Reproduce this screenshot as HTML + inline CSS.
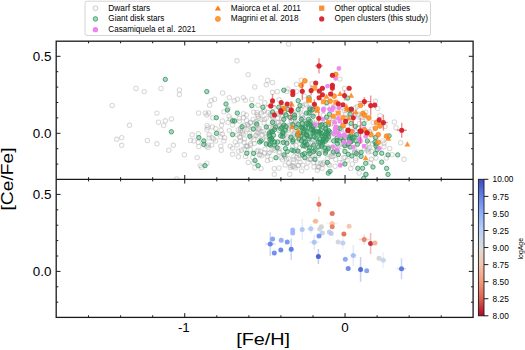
<!DOCTYPE html>
<html><head><meta charset="utf-8">
<style>
html,body{margin:0;padding:0;background:#fff;}
body{width:525px;height:350px;overflow:hidden;position:relative;}
svg{position:absolute;left:0;top:0;}
text{font-family:"Liberation Sans",sans-serif;fill:#000;}
</style></head><body>
<svg width="525" height="350" viewBox="0 0 525 350">
<defs>
<linearGradient id="cb" x1="0" y1="1" x2="0" y2="0">
<stop offset="0.000" stop-color="rgb(180, 4, 38)"/>
<stop offset="0.125" stop-color="rgb(222, 96, 77)"/>
<stop offset="0.250" stop-color="rgb(244, 154, 123)"/>
<stop offset="0.375" stop-color="rgb(245, 196, 173)"/>
<stop offset="0.500" stop-color="rgb(221, 221, 221)"/>
<stop offset="0.625" stop-color="rgb(184, 208, 249)"/>
<stop offset="0.750" stop-color="rgb(141, 176, 254)"/>
<stop offset="0.875" stop-color="rgb(98, 130, 234)"/>
<stop offset="1.000" stop-color="rgb(59, 76, 192)"/>
</linearGradient>
</defs>

<clipPath id="cu"><rect x="56.2" y="41.2" width="416.90" height="138.10"/></clipPath>
<clipPath id="cl"><rect x="56.2" y="179.3" width="416.90" height="138.10"/></clipPath>
<g clip-path="url(#cu)">
<g fill="none" stroke="#a0a0a0" stroke-width="1.05" stroke-opacity="0.4">
<circle cx="283.6" cy="106.6" r="2.2"/>
<circle cx="315.4" cy="123.2" r="2.2"/>
<circle cx="243.7" cy="134.1" r="2.2"/>
<circle cx="240.6" cy="128.4" r="2.2"/>
<circle cx="298.7" cy="158.7" r="2.2"/>
<circle cx="321.6" cy="125.5" r="2.2"/>
<circle cx="363.8" cy="117.3" r="2.2"/>
<circle cx="281.3" cy="157.8" r="2.2"/>
<circle cx="262.1" cy="139.8" r="2.2"/>
<circle cx="330.8" cy="123.7" r="2.2"/>
<circle cx="337.1" cy="127.9" r="2.2"/>
<circle cx="282.1" cy="140.1" r="2.2"/>
<circle cx="303.0" cy="118.1" r="2.2"/>
<circle cx="354.2" cy="148.8" r="2.2"/>
<circle cx="271.6" cy="139.2" r="2.2"/>
<circle cx="313.8" cy="162.4" r="2.2"/>
<circle cx="344.4" cy="117.2" r="2.2"/>
<circle cx="297.7" cy="153.3" r="2.2"/>
<circle cx="257.8" cy="132.7" r="2.2"/>
<circle cx="349.7" cy="139.1" r="2.2"/>
<circle cx="366.3" cy="119.2" r="2.2"/>
<circle cx="339.3" cy="140.8" r="2.2"/>
<circle cx="322.0" cy="130.1" r="2.2"/>
<circle cx="306.1" cy="146.1" r="2.2"/>
<circle cx="244.1" cy="149.0" r="2.2"/>
<circle cx="358.3" cy="116.9" r="2.2"/>
<circle cx="292.9" cy="146.5" r="2.2"/>
<circle cx="293.6" cy="162.1" r="2.2"/>
<circle cx="247.1" cy="129.6" r="2.2"/>
<circle cx="317.4" cy="163.0" r="2.2"/>
<circle cx="276.8" cy="127.0" r="2.2"/>
<circle cx="288.8" cy="163.1" r="2.2"/>
<circle cx="261.4" cy="112.9" r="2.2"/>
<circle cx="270.0" cy="132.3" r="2.2"/>
<circle cx="323.4" cy="115.2" r="2.2"/>
<circle cx="290.4" cy="138.6" r="2.2"/>
<circle cx="312.3" cy="142.6" r="2.2"/>
<circle cx="293.9" cy="125.7" r="2.2"/>
<circle cx="250.5" cy="143.8" r="2.2"/>
<circle cx="250.2" cy="123.0" r="2.2"/>
<circle cx="327.1" cy="106.4" r="2.2"/>
<circle cx="272.8" cy="121.7" r="2.2"/>
<circle cx="289.6" cy="104.5" r="2.2"/>
<circle cx="304.9" cy="132.3" r="2.2"/>
<circle cx="286.4" cy="115.4" r="2.2"/>
<circle cx="314.2" cy="106.3" r="2.2"/>
<circle cx="364.5" cy="148.6" r="2.2"/>
<circle cx="274.2" cy="123.2" r="2.2"/>
<circle cx="260.1" cy="154.4" r="2.2"/>
<circle cx="314.9" cy="155.0" r="2.2"/>
<circle cx="284.4" cy="112.2" r="2.2"/>
<circle cx="357.7" cy="152.0" r="2.2"/>
<circle cx="269.0" cy="134.9" r="2.2"/>
<circle cx="273.9" cy="148.3" r="2.2"/>
<circle cx="268.1" cy="112.5" r="2.2"/>
<circle cx="264.5" cy="110.7" r="2.2"/>
<circle cx="328.6" cy="164.3" r="2.2"/>
<circle cx="361.1" cy="131.9" r="2.2"/>
<circle cx="332.9" cy="156.6" r="2.2"/>
<circle cx="247.7" cy="145.9" r="2.2"/>
<circle cx="347.5" cy="131.8" r="2.2"/>
<circle cx="261.8" cy="155.8" r="2.2"/>
<circle cx="284.9" cy="156.7" r="2.2"/>
<circle cx="295.2" cy="167.9" r="2.2"/>
<circle cx="343.7" cy="108.1" r="2.2"/>
<circle cx="287.6" cy="137.2" r="2.2"/>
<circle cx="314.0" cy="166.9" r="2.2"/>
<circle cx="300.1" cy="162.1" r="2.2"/>
<circle cx="272.8" cy="117.6" r="2.2"/>
<circle cx="271.1" cy="140.2" r="2.2"/>
<circle cx="273.9" cy="127.3" r="2.2"/>
<circle cx="288.1" cy="130.3" r="2.2"/>
<circle cx="322.5" cy="164.6" r="2.2"/>
<circle cx="298.1" cy="165.7" r="2.2"/>
<circle cx="310.2" cy="136.0" r="2.2"/>
<circle cx="301.0" cy="109.1" r="2.2"/>
<circle cx="260.9" cy="131.5" r="2.2"/>
<circle cx="343.8" cy="137.8" r="2.2"/>
<circle cx="283.9" cy="134.9" r="2.2"/>
<circle cx="318.3" cy="155.4" r="2.2"/>
<circle cx="250.9" cy="138.1" r="2.2"/>
<circle cx="272.3" cy="116.3" r="2.2"/>
<circle cx="350.8" cy="134.1" r="2.2"/>
<circle cx="319.3" cy="153.5" r="2.2"/>
<circle cx="371.9" cy="129.1" r="2.2"/>
<circle cx="326.9" cy="133.9" r="2.2"/>
<circle cx="311.8" cy="148.3" r="2.2"/>
<circle cx="302.9" cy="136.1" r="2.2"/>
<circle cx="306.7" cy="167.5" r="2.2"/>
<circle cx="339.9" cy="162.5" r="2.2"/>
<circle cx="318.9" cy="167.6" r="2.2"/>
<circle cx="253.2" cy="129.0" r="2.2"/>
<circle cx="246.0" cy="146.5" r="2.2"/>
<circle cx="258.2" cy="150.1" r="2.2"/>
<circle cx="334.0" cy="106.0" r="2.2"/>
<circle cx="294.7" cy="132.5" r="2.2"/>
<circle cx="259.2" cy="128.2" r="2.2"/>
<circle cx="312.3" cy="121.1" r="2.2"/>
<circle cx="264.4" cy="119.5" r="2.2"/>
<circle cx="318.1" cy="128.9" r="2.2"/>
<circle cx="328.6" cy="134.4" r="2.2"/>
<circle cx="298.3" cy="165.2" r="2.2"/>
<circle cx="357.8" cy="114.9" r="2.2"/>
<circle cx="320.6" cy="148.9" r="2.2"/>
<circle cx="338.2" cy="127.7" r="2.2"/>
<circle cx="330.2" cy="156.7" r="2.2"/>
<circle cx="303.1" cy="121.1" r="2.2"/>
<circle cx="318.0" cy="166.4" r="2.2"/>
<circle cx="314.0" cy="113.4" r="2.2"/>
<circle cx="281.8" cy="118.5" r="2.2"/>
<circle cx="348.9" cy="117.3" r="2.2"/>
<circle cx="310.0" cy="108.7" r="2.2"/>
<circle cx="345.0" cy="137.4" r="2.2"/>
<circle cx="263.4" cy="131.6" r="2.2"/>
<circle cx="357.8" cy="128.3" r="2.2"/>
<circle cx="309.3" cy="159.3" r="2.2"/>
<circle cx="294.0" cy="134.0" r="2.2"/>
<circle cx="286.4" cy="159.1" r="2.2"/>
<circle cx="341.0" cy="144.0" r="2.2"/>
<circle cx="295.7" cy="121.8" r="2.2"/>
<circle cx="273.3" cy="107.6" r="2.2"/>
<circle cx="365.6" cy="146.6" r="2.2"/>
<circle cx="277.3" cy="113.7" r="2.2"/>
<circle cx="279.0" cy="130.4" r="2.2"/>
<circle cx="258.6" cy="129.3" r="2.2"/>
<circle cx="281.4" cy="122.5" r="2.2"/>
<circle cx="306.2" cy="133.7" r="2.2"/>
<circle cx="265.1" cy="133.9" r="2.2"/>
<circle cx="248.5" cy="125.8" r="2.2"/>
<circle cx="280.6" cy="112.9" r="2.2"/>
<circle cx="322.8" cy="135.7" r="2.2"/>
<circle cx="347.6" cy="145.6" r="2.2"/>
<circle cx="342.4" cy="162.7" r="2.2"/>
<circle cx="293.4" cy="120.1" r="2.2"/>
<circle cx="343.6" cy="144.5" r="2.2"/>
<circle cx="368.8" cy="143.3" r="2.2"/>
<circle cx="345.1" cy="157.5" r="2.2"/>
<circle cx="255.9" cy="135.3" r="2.2"/>
<circle cx="310.7" cy="159.3" r="2.2"/>
<circle cx="355.7" cy="158.6" r="2.2"/>
<circle cx="322.6" cy="163.7" r="2.2"/>
<circle cx="337.4" cy="148.4" r="2.2"/>
<circle cx="255.0" cy="122.8" r="2.2"/>
<circle cx="318.8" cy="143.3" r="2.2"/>
<circle cx="328.9" cy="147.4" r="2.2"/>
<circle cx="354.7" cy="152.6" r="2.2"/>
<circle cx="310.4" cy="136.2" r="2.2"/>
<circle cx="345.5" cy="114.4" r="2.2"/>
<circle cx="344.4" cy="110.8" r="2.2"/>
<circle cx="309.1" cy="124.5" r="2.2"/>
<circle cx="306.9" cy="147.6" r="2.2"/>
<circle cx="350.0" cy="142.5" r="2.2"/>
<circle cx="257.1" cy="114.6" r="2.2"/>
<circle cx="346.5" cy="118.4" r="2.2"/>
<circle cx="335.8" cy="148.3" r="2.2"/>
<circle cx="336.4" cy="117.4" r="2.2"/>
<circle cx="312.5" cy="130.8" r="2.2"/>
<circle cx="305.0" cy="104.1" r="2.2"/>
<circle cx="302.4" cy="115.7" r="2.2"/>
<circle cx="266.6" cy="139.8" r="2.2"/>
<circle cx="256.3" cy="135.4" r="2.2"/>
<circle cx="358.0" cy="134.2" r="2.2"/>
<circle cx="368.0" cy="149.2" r="2.2"/>
<circle cx="302.6" cy="118.3" r="2.2"/>
<circle cx="256.1" cy="121.5" r="2.2"/>
<circle cx="282.4" cy="159.7" r="2.2"/>
<circle cx="290.8" cy="125.3" r="2.2"/>
<circle cx="289.1" cy="128.0" r="2.2"/>
<circle cx="272.4" cy="115.5" r="2.2"/>
<circle cx="311.6" cy="109.6" r="2.2"/>
<circle cx="329.6" cy="165.3" r="2.2"/>
<circle cx="376.1" cy="137.3" r="2.2"/>
<circle cx="344.9" cy="129.7" r="2.2"/>
<circle cx="347.9" cy="144.6" r="2.2"/>
<circle cx="305.8" cy="121.5" r="2.2"/>
<circle cx="279.7" cy="151.9" r="2.2"/>
<circle cx="333.4" cy="118.2" r="2.2"/>
<circle cx="318.6" cy="125.4" r="2.2"/>
<circle cx="309.6" cy="111.9" r="2.2"/>
<circle cx="302.5" cy="105.7" r="2.2"/>
<circle cx="270.9" cy="114.9" r="2.2"/>
<circle cx="320.4" cy="163.3" r="2.2"/>
<circle cx="347.4" cy="126.8" r="2.2"/>
<circle cx="297.1" cy="135.4" r="2.2"/>
<circle cx="291.5" cy="121.0" r="2.2"/>
<circle cx="310.5" cy="143.5" r="2.2"/>
<circle cx="275.7" cy="114.1" r="2.2"/>
<circle cx="295.0" cy="129.3" r="2.2"/>
<circle cx="369.4" cy="131.4" r="2.2"/>
<circle cx="293.7" cy="166.4" r="2.2"/>
<circle cx="313.4" cy="147.5" r="2.2"/>
<circle cx="332.1" cy="153.9" r="2.2"/>
<circle cx="303.6" cy="137.5" r="2.2"/>
<circle cx="331.8" cy="118.4" r="2.2"/>
<circle cx="330.4" cy="148.8" r="2.2"/>
<circle cx="313.7" cy="139.9" r="2.2"/>
<circle cx="293.2" cy="112.2" r="2.2"/>
<circle cx="280.2" cy="130.5" r="2.2"/>
<circle cx="367.6" cy="131.6" r="2.2"/>
<circle cx="270.2" cy="114.0" r="2.2"/>
<circle cx="309.7" cy="146.9" r="2.2"/>
<circle cx="298.0" cy="114.8" r="2.2"/>
<circle cx="335.1" cy="166.2" r="2.2"/>
<circle cx="285.7" cy="127.4" r="2.2"/>
<circle cx="337.4" cy="110.3" r="2.2"/>
<circle cx="354.6" cy="151.9" r="2.2"/>
<circle cx="310.7" cy="110.8" r="2.2"/>
<circle cx="268.2" cy="153.6" r="2.2"/>
<circle cx="309.4" cy="109.4" r="2.2"/>
<circle cx="268.5" cy="127.1" r="2.2"/>
<circle cx="257.0" cy="125.3" r="2.2"/>
<circle cx="244.0" cy="125.3" r="2.2"/>
<circle cx="334.7" cy="124.2" r="2.2"/>
<circle cx="291.1" cy="120.5" r="2.2"/>
<circle cx="277.0" cy="122.1" r="2.2"/>
<circle cx="288.5" cy="158.3" r="2.2"/>
<circle cx="358.3" cy="128.3" r="2.2"/>
<circle cx="242.4" cy="131.5" r="2.2"/>
<circle cx="290.9" cy="165.8" r="2.2"/>
<circle cx="264.0" cy="123.0" r="2.2"/>
<circle cx="296.6" cy="157.5" r="2.2"/>
<circle cx="285.9" cy="116.0" r="2.2"/>
<circle cx="274.3" cy="150.2" r="2.2"/>
<circle cx="282.5" cy="116.2" r="2.2"/>
<circle cx="372.5" cy="143.8" r="2.2"/>
<circle cx="270.1" cy="131.6" r="2.2"/>
<circle cx="293.0" cy="114.3" r="2.2"/>
<circle cx="299.5" cy="133.0" r="2.2"/>
<circle cx="355.4" cy="151.9" r="2.2"/>
<circle cx="358.4" cy="154.5" r="2.2"/>
<circle cx="326.1" cy="120.2" r="2.2"/>
<circle cx="282.9" cy="122.9" r="2.2"/>
<circle cx="264.6" cy="153.0" r="2.2"/>
<circle cx="240.1" cy="137.5" r="2.2"/>
<circle cx="249.5" cy="133.4" r="2.2"/>
<circle cx="341.5" cy="129.4" r="2.2"/>
<circle cx="270.1" cy="127.1" r="2.2"/>
<circle cx="328.0" cy="146.9" r="2.2"/>
<circle cx="347.2" cy="160.2" r="2.2"/>
<circle cx="361.1" cy="117.6" r="2.2"/>
<circle cx="136.0" cy="88.4" r="2.2"/>
<circle cx="144.2" cy="91.6" r="2.2"/>
<circle cx="161.0" cy="88.4" r="2.2"/>
<circle cx="112.2" cy="105.4" r="2.2"/>
<circle cx="156.9" cy="113.1" r="2.2"/>
<circle cx="158.5" cy="122.2" r="2.2"/>
<circle cx="129.5" cy="125.3" r="2.2"/>
<circle cx="116.7" cy="139.3" r="2.2"/>
<circle cx="121.7" cy="137.6" r="2.2"/>
<circle cx="121.7" cy="145.3" r="2.2"/>
<circle cx="147.4" cy="140.5" r="2.2"/>
<circle cx="156.9" cy="143.8" r="2.2"/>
<circle cx="179.4" cy="90.0" r="2.2"/>
<circle cx="179.4" cy="94.4" r="2.2"/>
<circle cx="237.0" cy="60.8" r="2.2"/>
<circle cx="248.2" cy="74.6" r="2.2"/>
<circle cx="254.8" cy="87.0" r="2.2"/>
<circle cx="222.6" cy="93.0" r="2.2"/>
<circle cx="214.6" cy="99.2" r="2.2"/>
<circle cx="211.2" cy="100.6" r="2.2"/>
<circle cx="209.6" cy="105.2" r="2.2"/>
<circle cx="229.4" cy="97.6" r="2.2"/>
<circle cx="234.2" cy="100.8" r="2.2"/>
<circle cx="237.4" cy="99.2" r="2.2"/>
<circle cx="243.4" cy="97.6" r="2.2"/>
<circle cx="245.4" cy="100.2" r="2.2"/>
<circle cx="251.8" cy="99.4" r="2.2"/>
<circle cx="258.0" cy="105.2" r="2.2"/>
<circle cx="261.0" cy="98.0" r="2.2"/>
<circle cx="165.3" cy="120.8" r="2.2"/>
<circle cx="171.4" cy="118.9" r="2.2"/>
<circle cx="163.6" cy="125.5" r="2.2"/>
<circle cx="173.3" cy="145.3" r="2.2"/>
<circle cx="168.8" cy="150.2" r="2.2"/>
<circle cx="184.4" cy="154.7" r="2.2"/>
<circle cx="197.2" cy="157.6" r="2.2"/>
<circle cx="192.2" cy="134.8" r="2.2"/>
<circle cx="190.6" cy="140.5" r="2.2"/>
<circle cx="193.9" cy="140.9" r="2.2"/>
<circle cx="198.8" cy="146.5" r="2.2"/>
<circle cx="198.6" cy="113.0" r="2.2"/>
<circle cx="205.4" cy="113.0" r="2.2"/>
<circle cx="208.7" cy="113.0" r="2.2"/>
<circle cx="212.8" cy="117.7" r="2.2"/>
<circle cx="207.1" cy="125.5" r="2.2"/>
<circle cx="207.9" cy="127.6" r="2.2"/>
<circle cx="212.4" cy="127.0" r="2.2"/>
<circle cx="215.7" cy="128.6" r="2.2"/>
<circle cx="221.5" cy="125.3" r="2.2"/>
<circle cx="222.3" cy="121.0" r="2.2"/>
<circle cx="223.9" cy="111.7" r="2.2"/>
<circle cx="229.1" cy="116.2" r="2.2"/>
<circle cx="243.5" cy="113.6" r="2.2"/>
<circle cx="243.5" cy="117.7" r="2.2"/>
<circle cx="246.6" cy="120.4" r="2.2"/>
<circle cx="239.4" cy="118.3" r="2.2"/>
<circle cx="253.8" cy="112.1" r="2.2"/>
<circle cx="256.9" cy="112.5" r="2.2"/>
<circle cx="250.7" cy="122.4" r="2.2"/>
<circle cx="247.6" cy="124.5" r="2.2"/>
<circle cx="258.9" cy="118.3" r="2.2"/>
<circle cx="229.3" cy="130.6" r="2.2"/>
<circle cx="209.1" cy="134.8" r="2.2"/>
<circle cx="209.1" cy="137.9" r="2.2"/>
<circle cx="213.6" cy="138.9" r="2.2"/>
<circle cx="215.7" cy="140.9" r="2.2"/>
<circle cx="220.6" cy="136.8" r="2.2"/>
<circle cx="223.9" cy="140.9" r="2.2"/>
<circle cx="220.9" cy="146.1" r="2.2"/>
<circle cx="221.3" cy="150.2" r="2.2"/>
<circle cx="208.5" cy="145.1" r="2.2"/>
<circle cx="211.6" cy="145.1" r="2.2"/>
<circle cx="206.4" cy="146.1" r="2.2"/>
<circle cx="230.1" cy="146.1" r="2.2"/>
<circle cx="232.6" cy="148.1" r="2.2"/>
<circle cx="232.6" cy="154.3" r="2.2"/>
<circle cx="238.4" cy="151.2" r="2.2"/>
<circle cx="241.4" cy="150.2" r="2.2"/>
<circle cx="238.4" cy="156.8" r="2.2"/>
<circle cx="245.6" cy="156.4" r="2.2"/>
<circle cx="235.3" cy="142.0" r="2.2"/>
<circle cx="240.4" cy="140.9" r="2.2"/>
<circle cx="244.5" cy="138.9" r="2.2"/>
<circle cx="246.6" cy="146.1" r="2.2"/>
<circle cx="250.7" cy="145.1" r="2.2"/>
<circle cx="253.8" cy="139.9" r="2.2"/>
<circle cx="257.9" cy="136.8" r="2.2"/>
<circle cx="258.9" cy="130.6" r="2.2"/>
<circle cx="237.3" cy="134.8" r="2.2"/>
<circle cx="240.4" cy="130.6" r="2.2"/>
<circle cx="248.2" cy="162.4" r="2.2"/>
<circle cx="252.8" cy="157.4" r="2.2"/>
<circle cx="200.3" cy="165.6" r="2.2"/>
<circle cx="201.7" cy="167.3" r="2.2"/>
<circle cx="206.9" cy="163.2" r="2.2"/>
<circle cx="176.6" cy="179.0" r="2.2"/>
<circle cx="254.8" cy="167.7" r="2.2"/>
<circle cx="267.6" cy="80.3" r="2.2"/>
<circle cx="272.5" cy="82.4" r="2.2"/>
<circle cx="266.3" cy="84.8" r="2.2"/>
<circle cx="277.3" cy="91.5" r="2.2"/>
<circle cx="272.5" cy="92.3" r="2.2"/>
<circle cx="264.7" cy="102.8" r="2.2"/>
<circle cx="286.9" cy="91.5" r="2.2"/>
<circle cx="287.9" cy="88.9" r="2.2"/>
<circle cx="296.6" cy="84.3" r="2.2"/>
<circle cx="301.3" cy="80.1" r="2.2"/>
<circle cx="296.6" cy="91.5" r="2.2"/>
<circle cx="304.4" cy="96.1" r="2.2"/>
<circle cx="306.4" cy="104.8" r="2.2"/>
<circle cx="309.5" cy="107.4" r="2.2"/>
<circle cx="279.1" cy="99.7" r="2.2"/>
<circle cx="339.9" cy="79.1" r="2.2"/>
<circle cx="344.5" cy="88.4" r="2.2"/>
<circle cx="312.1" cy="83.7" r="2.2"/>
<circle cx="357.4" cy="106.4" r="2.2"/>
<circle cx="355.3" cy="107.9" r="2.2"/>
<circle cx="375.4" cy="101.3" r="2.2"/>
<circle cx="377.7" cy="108.6" r="2.2"/>
<circle cx="263.2" cy="111.6" r="2.2"/>
<circle cx="258.1" cy="116.2" r="2.2"/>
<circle cx="261.1" cy="119.3" r="2.2"/>
<circle cx="266.3" cy="118.3" r="2.2"/>
<circle cx="262.2" cy="134.7" r="2.2"/>
<circle cx="278.6" cy="122.4" r="2.2"/>
<circle cx="277.6" cy="118.3" r="2.2"/>
<circle cx="279.7" cy="125.5" r="2.2"/>
<circle cx="287.9" cy="125.5" r="2.2"/>
<circle cx="288.9" cy="132.7" r="2.2"/>
<circle cx="295.1" cy="134.7" r="2.2"/>
<circle cx="286.9" cy="138.9" r="2.2"/>
<circle cx="299.2" cy="139.9" r="2.2"/>
<circle cx="266.3" cy="136.8" r="2.2"/>
<circle cx="301.3" cy="114.2" r="2.2"/>
<circle cx="282.7" cy="109.0" r="2.2"/>
<circle cx="297.2" cy="123.4" r="2.2"/>
<circle cx="311.6" cy="114.2" r="2.2"/>
<circle cx="318.3" cy="128.6" r="2.2"/>
<circle cx="315.2" cy="139.9" r="2.2"/>
<circle cx="328.6" cy="139.9" r="2.2"/>
<circle cx="359.4" cy="123.4" r="2.2"/>
<circle cx="358.4" cy="114.2" r="2.2"/>
<circle cx="380.0" cy="115.7" r="2.2"/>
<circle cx="373.1" cy="122.6" r="2.2"/>
<circle cx="394.3" cy="122.0" r="2.2"/>
<circle cx="396.0" cy="127.7" r="2.2"/>
<circle cx="385.1" cy="126.6" r="2.2"/>
<circle cx="365.7" cy="112.3" r="2.2"/>
<circle cx="400.6" cy="142.7" r="2.2"/>
<circle cx="389.7" cy="148.4" r="2.2"/>
<circle cx="392.0" cy="154.7" r="2.2"/>
<circle cx="404.0" cy="159.3" r="2.2"/>
<circle cx="369.1" cy="147.9" r="2.2"/>
<circle cx="371.4" cy="151.3" r="2.2"/>
<circle cx="384.0" cy="146.7" r="2.2"/>
<circle cx="384.0" cy="143.3" r="2.2"/>
<circle cx="386.3" cy="158.1" r="2.2"/>
<circle cx="376.0" cy="158.1" r="2.2"/>
<circle cx="371.4" cy="159.3" r="2.2"/>
<circle cx="370.3" cy="162.7" r="2.2"/>
<circle cx="382.9" cy="141.0" r="2.2"/>
<circle cx="363.4" cy="127.3" r="2.2"/>
<circle cx="368.6" cy="151.9" r="2.2"/>
<circle cx="261.1" cy="168.6" r="2.2"/>
<circle cx="267.4" cy="156.0" r="2.2"/>
<circle cx="267.4" cy="160.6" r="2.2"/>
<circle cx="270.9" cy="159.4" r="2.2"/>
<circle cx="274.3" cy="168.6" r="2.2"/>
<circle cx="278.9" cy="168.0" r="2.2"/>
<circle cx="274.3" cy="174.3" r="2.2"/>
<circle cx="285.1" cy="165.1" r="2.2"/>
<circle cx="290.3" cy="167.4" r="2.2"/>
<circle cx="292.6" cy="166.3" r="2.2"/>
<circle cx="289.7" cy="174.3" r="2.2"/>
<circle cx="293.7" cy="156.6" r="2.2"/>
<circle cx="293.7" cy="159.4" r="2.2"/>
<circle cx="302.9" cy="165.1" r="2.2"/>
<circle cx="301.7" cy="170.9" r="2.2"/>
<circle cx="308.0" cy="162.3" r="2.2"/>
<circle cx="310.9" cy="158.9" r="2.2"/>
<circle cx="300.0" cy="155.4" r="2.2"/>
<circle cx="298.3" cy="151.4" r="2.2"/>
<circle cx="278.9" cy="152.6" r="2.2"/>
<circle cx="269.7" cy="152.6" r="2.2"/>
<circle cx="259.4" cy="154.9" r="2.2"/>
<circle cx="260.6" cy="151.4" r="2.2"/>
<circle cx="265.1" cy="149.1" r="2.2"/>
<circle cx="272.0" cy="149.7" r="2.2"/>
<circle cx="278.9" cy="148.6" r="2.2"/>
<circle cx="282.3" cy="142.9" r="2.2"/>
<circle cx="286.9" cy="143.4" r="2.2"/>
<circle cx="296.0" cy="145.7" r="2.2"/>
<circle cx="299.4" cy="148.0" r="2.2"/>
<circle cx="297.1" cy="141.1" r="2.2"/>
<circle cx="308.6" cy="153.7" r="2.2"/>
<circle cx="257.1" cy="151.4" r="2.2"/>
<circle cx="317.4" cy="170.3" r="2.2"/>
<circle cx="322.0" cy="168.3" r="2.2"/>
<circle cx="323.7" cy="162.3" r="2.2"/>
<circle cx="327.7" cy="158.3" r="2.2"/>
<circle cx="331.7" cy="156.0" r="2.2"/>
<circle cx="335.7" cy="159.4" r="2.2"/>
<circle cx="343.7" cy="157.7" r="2.2"/>
<circle cx="350.6" cy="168.6" r="2.2"/>
<circle cx="352.3" cy="164.0" r="2.2"/>
<circle cx="359.1" cy="173.1" r="2.2"/>
<circle cx="365.4" cy="174.3" r="2.2"/>
<circle cx="355.7" cy="160.6" r="2.2"/>
<circle cx="342.0" cy="146.9" r="2.2"/>
<circle cx="323.7" cy="149.7" r="2.2"/>
<circle cx="312.3" cy="156.0" r="2.2"/>
<circle cx="339.7" cy="142.3" r="2.2"/>
<circle cx="367.1" cy="150.3" r="2.2"/>
<circle cx="198.3" cy="142.3" r="2.2"/>
<circle cx="208.0" cy="147.4" r="2.2"/>
<circle cx="250.3" cy="149.7" r="2.2"/>
<circle cx="253.7" cy="162.9" r="2.2"/>
<circle cx="244.0" cy="142.3" r="2.2"/>
<circle cx="254.3" cy="143.4" r="2.2"/>
<circle cx="237.1" cy="145.1" r="2.2"/>
<circle cx="206.9" cy="114.9" r="2.2"/>
<circle cx="228.0" cy="108.6" r="2.2"/>
<circle cx="228.0" cy="122.3" r="2.2"/>
<circle cx="230.3" cy="118.9" r="2.2"/>
<circle cx="246.3" cy="114.9" r="2.2"/>
<circle cx="239.4" cy="121.1" r="2.2"/>
<circle cx="253.1" cy="119.4" r="2.2"/>
<circle cx="206.9" cy="129.7" r="2.2"/>
<circle cx="221.1" cy="130.3" r="2.2"/>
<circle cx="232.6" cy="125.1" r="2.2"/>
<circle cx="238.3" cy="129.7" r="2.2"/>
<circle cx="248.0" cy="128.0" r="2.2"/>
<circle cx="242.3" cy="133.1" r="2.2"/>
<circle cx="198.3" cy="133.7" r="2.2"/>
<circle cx="212.0" cy="137.7" r="2.2"/>
<circle cx="222.3" cy="134.3" r="2.2"/>
<circle cx="224.6" cy="137.7" r="2.2"/>
<circle cx="239.4" cy="136.6" r="2.2"/>
<circle cx="288.6" cy="44.0" r="2.2"/>
</g>
<g fill="#2e8b57" fill-opacity="0.38" stroke="#319960" stroke-opacity="0.85" stroke-width="0.95">
<circle cx="165.3" cy="79.4" r="2.2"/>
<circle cx="206.8" cy="91.6" r="2.2"/>
<circle cx="226.0" cy="104.0" r="2.2"/>
<circle cx="251.8" cy="105.6" r="2.2"/>
<circle cx="227.4" cy="110.0" r="2.2"/>
<circle cx="171.4" cy="131.8" r="2.2"/>
<circle cx="237.3" cy="113.1" r="2.2"/>
<circle cx="216.3" cy="117.7" r="2.2"/>
<circle cx="232.6" cy="120.8" r="2.2"/>
<circle cx="234.6" cy="121.0" r="2.2"/>
<circle cx="242.1" cy="126.7" r="2.2"/>
<circle cx="253.4" cy="129.0" r="2.2"/>
<circle cx="256.7" cy="124.0" r="2.2"/>
<circle cx="216.5" cy="133.3" r="2.2"/>
<circle cx="232.6" cy="134.6" r="2.2"/>
<circle cx="198.8" cy="137.6" r="2.2"/>
<circle cx="203.8" cy="140.9" r="2.2"/>
<circle cx="203.8" cy="144.4" r="2.2"/>
<circle cx="249.9" cy="136.2" r="2.2"/>
<circle cx="259.6" cy="142.0" r="2.2"/>
<circle cx="246.8" cy="153.3" r="2.2"/>
<circle cx="253.6" cy="153.3" r="2.2"/>
<circle cx="255.0" cy="160.5" r="2.2"/>
<circle cx="258.1" cy="165.6" r="2.2"/>
<circle cx="205.0" cy="165.6" r="2.2"/>
<circle cx="283.8" cy="90.2" r="2.2"/>
<circle cx="262.9" cy="107.2" r="2.2"/>
<circle cx="278.8" cy="107.2" r="2.2"/>
<circle cx="298.2" cy="100.7" r="2.2"/>
<circle cx="300.0" cy="105.6" r="2.2"/>
<circle cx="298.2" cy="109.5" r="2.2"/>
<circle cx="287.9" cy="109.5" r="2.2"/>
<circle cx="347.6" cy="98.1" r="2.2"/>
<circle cx="351.2" cy="109.5" r="2.2"/>
<circle cx="312.6" cy="109.5" r="2.2"/>
<circle cx="309.0" cy="97.8" r="2.2"/>
<circle cx="326.5" cy="102.8" r="2.2"/>
<circle cx="272.5" cy="112.1" r="2.2"/>
<circle cx="285.8" cy="114.7" r="2.2"/>
<circle cx="290.0" cy="117.3" r="2.2"/>
<circle cx="294.6" cy="117.8" r="2.2"/>
<circle cx="294.6" cy="115.2" r="2.2"/>
<circle cx="306.4" cy="113.1" r="2.2"/>
<circle cx="308.5" cy="119.3" r="2.2"/>
<circle cx="301.3" cy="119.3" r="2.2"/>
<circle cx="283.8" cy="119.3" r="2.2"/>
<circle cx="272.5" cy="122.4" r="2.2"/>
<circle cx="266.3" cy="127.0" r="2.2"/>
<circle cx="275.5" cy="127.0" r="2.2"/>
<circle cx="280.7" cy="128.6" r="2.2"/>
<circle cx="285.3" cy="130.1" r="2.2"/>
<circle cx="283.8" cy="125.0" r="2.2"/>
<circle cx="272.5" cy="131.7" r="2.2"/>
<circle cx="269.4" cy="133.2" r="2.2"/>
<circle cx="274.5" cy="129.6" r="2.2"/>
<circle cx="280.7" cy="135.8" r="2.2"/>
<circle cx="282.7" cy="136.3" r="2.2"/>
<circle cx="291.0" cy="137.3" r="2.2"/>
<circle cx="293.0" cy="139.9" r="2.2"/>
<circle cx="269.9" cy="139.4" r="2.2"/>
<circle cx="261.1" cy="140.9" r="2.2"/>
<circle cx="274.5" cy="142.0" r="2.2"/>
<circle cx="277.6" cy="142.0" r="2.2"/>
<circle cx="302.3" cy="123.4" r="2.2"/>
<circle cx="305.4" cy="127.5" r="2.2"/>
<circle cx="303.3" cy="132.7" r="2.2"/>
<circle cx="306.4" cy="134.7" r="2.2"/>
<circle cx="304.4" cy="137.8" r="2.2"/>
<circle cx="305.4" cy="142.0" r="2.2"/>
<circle cx="296.1" cy="127.5" r="2.2"/>
<circle cx="301.3" cy="127.5" r="2.2"/>
<circle cx="309.0" cy="113.1" r="2.2"/>
<circle cx="313.1" cy="116.2" r="2.2"/>
<circle cx="310.1" cy="121.4" r="2.2"/>
<circle cx="311.1" cy="129.6" r="2.2"/>
<circle cx="316.2" cy="131.7" r="2.2"/>
<circle cx="314.2" cy="136.8" r="2.2"/>
<circle cx="321.4" cy="133.7" r="2.2"/>
<circle cx="325.5" cy="128.6" r="2.2"/>
<circle cx="328.6" cy="130.6" r="2.2"/>
<circle cx="323.4" cy="138.9" r="2.2"/>
<circle cx="328.6" cy="136.8" r="2.2"/>
<circle cx="333.7" cy="140.9" r="2.2"/>
<circle cx="318.3" cy="142.0" r="2.2"/>
<circle cx="309.0" cy="138.9" r="2.2"/>
<circle cx="320.3" cy="125.5" r="2.2"/>
<circle cx="325.5" cy="124.5" r="2.2"/>
<circle cx="339.9" cy="128.6" r="2.2"/>
<circle cx="351.2" cy="123.4" r="2.2"/>
<circle cx="355.3" cy="126.5" r="2.2"/>
<circle cx="356.4" cy="134.7" r="2.2"/>
<circle cx="352.2" cy="137.8" r="2.2"/>
<circle cx="356.4" cy="140.9" r="2.2"/>
<circle cx="349.2" cy="138.9" r="2.2"/>
<circle cx="329.6" cy="114.2" r="2.2"/>
<circle cx="326.5" cy="117.3" r="2.2"/>
<circle cx="310.1" cy="109.0" r="2.2"/>
<circle cx="349.2" cy="110.1" r="2.2"/>
<circle cx="350.2" cy="114.2" r="2.2"/>
<circle cx="364.0" cy="123.7" r="2.2"/>
<circle cx="375.4" cy="137.6" r="2.2"/>
<circle cx="367.4" cy="141.0" r="2.2"/>
<circle cx="374.9" cy="142.1" r="2.2"/>
<circle cx="389.1" cy="135.9" r="2.2"/>
<circle cx="376.0" cy="146.1" r="2.2"/>
<circle cx="377.1" cy="149.6" r="2.2"/>
<circle cx="375.4" cy="153.6" r="2.2"/>
<circle cx="381.7" cy="153.3" r="2.2"/>
<circle cx="388.0" cy="154.9" r="2.2"/>
<circle cx="397.7" cy="154.9" r="2.2"/>
<circle cx="361.1" cy="152.4" r="2.2"/>
<circle cx="361.1" cy="156.4" r="2.2"/>
<circle cx="381.7" cy="162.1" r="2.2"/>
<circle cx="365.7" cy="163.3" r="2.2"/>
<circle cx="266.3" cy="144.0" r="2.2"/>
<circle cx="274.3" cy="145.1" r="2.2"/>
<circle cx="285.5" cy="148.6" r="2.2"/>
<circle cx="292.0" cy="150.1" r="2.2"/>
<circle cx="284.0" cy="154.9" r="2.2"/>
<circle cx="276.0" cy="157.7" r="2.2"/>
<circle cx="302.9" cy="145.7" r="2.2"/>
<circle cx="309.7" cy="148.0" r="2.2"/>
<circle cx="313.7" cy="145.1" r="2.2"/>
<circle cx="313.7" cy="151.4" r="2.2"/>
<circle cx="304.9" cy="157.7" r="2.2"/>
<circle cx="314.9" cy="159.4" r="2.2"/>
<circle cx="318.6" cy="146.9" r="2.2"/>
<circle cx="320.3" cy="142.3" r="2.2"/>
<circle cx="325.4" cy="141.1" r="2.2"/>
<circle cx="328.3" cy="148.6" r="2.2"/>
<circle cx="319.1" cy="153.7" r="2.2"/>
<circle cx="325.4" cy="153.1" r="2.2"/>
<circle cx="333.4" cy="152.0" r="2.2"/>
<circle cx="338.3" cy="154.6" r="2.2"/>
<circle cx="344.9" cy="151.4" r="2.2"/>
<circle cx="348.3" cy="154.3" r="2.2"/>
<circle cx="351.7" cy="156.0" r="2.2"/>
<circle cx="356.3" cy="153.5" r="2.2"/>
<circle cx="357.4" cy="144.3" r="2.2"/>
<circle cx="337.4" cy="143.4" r="2.2"/>
<circle cx="327.4" cy="162.5" r="2.2"/>
<circle cx="344.9" cy="164.0" r="2.2"/>
<circle cx="357.8" cy="168.3" r="2.2"/>
<circle cx="362.6" cy="168.3" r="2.2"/>
<circle cx="330.0" cy="171.4" r="2.2"/>
<circle cx="328.3" cy="173.1" r="2.2"/>
<circle cx="363.7" cy="178.3" r="2.2"/>
<circle cx="350.6" cy="141.7" r="2.2"/>
<circle cx="310.0" cy="124.0" r="2.2"/>
<circle cx="313.0" cy="127.0" r="2.2"/>
<circle cx="308.0" cy="128.0" r="2.2"/>
<circle cx="304.0" cy="131.0" r="2.2"/>
<circle cx="307.0" cy="132.0" r="2.2"/>
<circle cx="314.0" cy="131.0" r="2.2"/>
<circle cx="319.0" cy="134.0" r="2.2"/>
<circle cx="322.0" cy="136.0" r="2.2"/>
<circle cx="330.0" cy="132.0" r="2.2"/>
<circle cx="328.0" cy="134.0" r="2.2"/>
<circle cx="310.0" cy="137.0" r="2.2"/>
<circle cx="316.0" cy="138.0" r="2.2"/>
<circle cx="320.0" cy="139.0" r="2.2"/>
<circle cx="327.0" cy="139.0" r="2.2"/>
<circle cx="323.0" cy="142.0" r="2.2"/>
<circle cx="307.0" cy="144.5" r="2.2"/>
<circle cx="315.0" cy="150.0" r="2.2"/>
<circle cx="309.0" cy="151.0" r="2.2"/>
<circle cx="294.0" cy="151.0" r="2.2"/>
<circle cx="325.0" cy="148.0" r="2.2"/>
<circle cx="326.0" cy="151.0" r="2.2"/>
<circle cx="337.0" cy="138.0" r="2.2"/>
<circle cx="300.0" cy="133.0" r="2.2"/>
<circle cx="301.0" cy="136.0" r="2.2"/>
<circle cx="337.0" cy="140.5" r="2.2"/>
<circle cx="341.0" cy="138.0" r="2.2"/>
<circle cx="349.0" cy="137.0" r="2.2"/>
<circle cx="354.0" cy="137.0" r="2.2"/>
<circle cx="376.0" cy="144.0" r="2.2"/>
<circle cx="348.0" cy="144.0" r="2.2"/>
<circle cx="350.0" cy="147.0" r="2.2"/>
<circle cx="386.6" cy="168.4" r="2.2"/>
<circle cx="388.0" cy="174.4" r="2.2"/>
<circle cx="373.0" cy="167.0" r="2.2"/>
<circle cx="366.0" cy="174.4" r="2.2"/>
<circle cx="319.5" cy="132.5" r="2.2"/>
<circle cx="286.0" cy="126.5" r="2.2"/>
<circle cx="320.7" cy="130.3" r="2.2"/>
<circle cx="313.3" cy="125.9" r="2.2"/>
<circle cx="344.9" cy="145.7" r="2.2"/>
<circle cx="309.9" cy="153.5" r="2.2"/>
<circle cx="350.9" cy="136.1" r="2.2"/>
<circle cx="287.3" cy="151.6" r="2.2"/>
<circle cx="322.6" cy="144.1" r="2.2"/>
<circle cx="282.9" cy="132.3" r="2.2"/>
<circle cx="286.8" cy="143.2" r="2.2"/>
<circle cx="328.4" cy="124.6" r="2.2"/>
<circle cx="292.8" cy="124.6" r="2.2"/>
<circle cx="343.5" cy="140.8" r="2.2"/>
<circle cx="301.5" cy="140.9" r="2.2"/>
<circle cx="277.2" cy="147.7" r="2.2"/>
<circle cx="303.0" cy="128.3" r="2.2"/>
<circle cx="292.8" cy="141.6" r="2.2"/>
<circle cx="297.5" cy="134.6" r="2.2"/>
<circle cx="298.2" cy="124.3" r="2.2"/>
<circle cx="304.5" cy="153.6" r="2.2"/>
<circle cx="269.3" cy="144.2" r="2.2"/>
<circle cx="298.9" cy="138.7" r="2.2"/>
<circle cx="271.4" cy="138.1" r="2.2"/>
<circle cx="302.5" cy="154.8" r="2.2"/>
<circle cx="282.9" cy="133.8" r="2.2"/>
<circle cx="314.4" cy="133.0" r="2.2"/>
<circle cx="322.9" cy="140.9" r="2.2"/>
<circle cx="325.8" cy="129.4" r="2.2"/>
<circle cx="304.1" cy="142.4" r="2.2"/>
<circle cx="304.7" cy="146.0" r="2.2"/>
<circle cx="306.9" cy="135.6" r="2.2"/>
<circle cx="311.4" cy="126.1" r="2.2"/>
<circle cx="308.1" cy="123.4" r="2.2"/>
<circle cx="273.5" cy="135.2" r="2.2"/>
<circle cx="269.6" cy="135.8" r="2.2"/>
<circle cx="337.0" cy="151.5" r="2.2"/>
<circle cx="312.9" cy="132.8" r="2.2"/>
<circle cx="281.9" cy="127.4" r="2.2"/>
<circle cx="313.1" cy="130.0" r="2.2"/>
<circle cx="272.1" cy="139.9" r="2.2"/>
<circle cx="326.8" cy="131.9" r="2.2"/>
<circle cx="351.7" cy="141.1" r="2.2"/>
<circle cx="326.1" cy="133.5" r="2.2"/>
<circle cx="297.8" cy="150.9" r="2.2"/>
<circle cx="306.4" cy="123.3" r="2.2"/>
<circle cx="321.5" cy="146.2" r="2.2"/>
<circle cx="324.7" cy="135.3" r="2.2"/>
<circle cx="271.2" cy="131.8" r="2.2"/>
<circle cx="283.5" cy="142.4" r="2.2"/>
<circle cx="321.9" cy="124.6" r="2.2"/>
<circle cx="325.5" cy="137.3" r="2.2"/>
<circle cx="270.1" cy="145.0" r="2.2"/>
<circle cx="302.2" cy="127.4" r="2.2"/>
<circle cx="319.0" cy="131.5" r="2.2"/>
</g>
<g fill="#ee82ee" fill-opacity="0.9">
<circle cx="338.9" cy="68.5" r="2.4"/>
<circle cx="335.6" cy="78.4" r="2.4"/>
<circle cx="327.5" cy="86.1" r="2.4"/>
<circle cx="333.2" cy="107.4" r="2.4"/>
<circle cx="323.4" cy="109.0" r="2.4"/>
<circle cx="338.9" cy="107.9" r="2.4"/>
<circle cx="329.6" cy="109.5" r="2.4"/>
<circle cx="323.4" cy="110.6" r="2.4"/>
<circle cx="332.2" cy="110.1" r="2.4"/>
<circle cx="322.9" cy="119.3" r="2.4"/>
<circle cx="315.2" cy="124.5" r="2.4"/>
<circle cx="334.7" cy="122.4" r="2.4"/>
<circle cx="338.3" cy="118.3" r="2.4"/>
<circle cx="339.9" cy="121.4" r="2.4"/>
<circle cx="335.8" cy="127.0" r="2.4"/>
<circle cx="335.3" cy="131.7" r="2.4"/>
<circle cx="333.7" cy="134.2" r="2.4"/>
<circle cx="338.9" cy="134.2" r="2.4"/>
<circle cx="344.0" cy="134.7" r="2.4"/>
<circle cx="352.8" cy="131.1" r="2.4"/>
<circle cx="344.5" cy="142.5" r="2.4"/>
<circle cx="349.2" cy="142.5" r="2.4"/>
<circle cx="359.4" cy="138.9" r="2.4"/>
<circle cx="364.0" cy="128.9" r="2.4"/>
<circle cx="365.7" cy="136.4" r="2.4"/>
<circle cx="364.0" cy="146.1" r="2.4"/>
<circle cx="379.4" cy="148.4" r="2.4"/>
<circle cx="360.6" cy="141.0" r="2.4"/>
<circle cx="332.9" cy="146.6" r="2.4"/>
<circle cx="336.9" cy="149.7" r="2.4"/>
<circle cx="353.4" cy="147.1" r="2.4"/>
<circle cx="340.3" cy="165.4" r="2.4"/>
<circle cx="335.0" cy="129.0" r="2.4"/>
<circle cx="338.0" cy="133.0" r="2.4"/>
<circle cx="340.0" cy="136.0" r="2.4"/>
<circle cx="345.0" cy="136.0" r="2.4"/>
</g>
<g fill="#ff7f0e" fill-opacity="0.85">
<path d="M292.0 101.2L294.9 106.5L289.1 106.5Z"/>
<path d="M340.1 90.7L343.0 96.0L337.2 96.0Z"/>
<path d="M351.2 92.5L354.1 97.8L348.3 97.8Z"/>
<path d="M326.5 93.5L329.4 98.8L323.6 98.8Z"/>
<path d="M346.6 103.8L349.5 109.1L343.7 109.1Z"/>
<path d="M283.6 105.9L286.5 111.2L280.7 111.2Z"/>
<path d="M292.0 123.9L294.9 129.2L289.1 129.2Z"/>
<path d="M298.2 128.0L301.1 133.3L295.3 133.3Z"/>
<path d="M298.2 131.6L301.1 136.9L295.3 136.9Z"/>
<path d="M317.3 107.5L320.2 112.8L314.4 112.8Z"/>
<path d="M348.6 115.2L351.5 120.5L345.7 120.5Z"/>
<path d="M346.6 106.1L349.5 111.4L343.7 111.4Z"/>
<path d="M355.8 109.0L358.7 114.3L352.9 114.3Z"/>
<path d="M388.3 135.4L391.2 140.7L385.4 140.7Z"/>
<path d="M407.4 141.3L410.3 146.6L404.5 146.6Z"/>
<path d="M365.7 155.0L368.6 160.3L362.8 160.3Z"/>
</g>
<g fill="#ff8c1f" fill-opacity="0.85" stroke="#f57f10" stroke-width="0.7">
<circle cx="304.9" cy="80.9" r="2.4"/>
<circle cx="301.3" cy="85.3" r="2.4"/>
<circle cx="283.8" cy="108.4" r="2.4"/>
<circle cx="335.8" cy="74.5" r="2.4"/>
<circle cx="334.2" cy="96.1" r="2.4"/>
<circle cx="330.1" cy="101.2" r="2.4"/>
<circle cx="360.5" cy="105.3" r="2.4"/>
<circle cx="317.3" cy="109.0" r="2.4"/>
<circle cx="343.0" cy="125.5" r="2.4"/>
<circle cx="351.2" cy="131.7" r="2.4"/>
<circle cx="362.9" cy="113.4" r="2.4"/>
<circle cx="364.6" cy="115.1" r="2.4"/>
<circle cx="368.9" cy="118.0" r="2.4"/>
<circle cx="376.6" cy="122.6" r="2.4"/>
<circle cx="380.0" cy="126.0" r="2.4"/>
<circle cx="375.4" cy="128.3" r="2.4"/>
<circle cx="370.9" cy="134.7" r="2.4"/>
<circle cx="378.3" cy="134.7" r="2.4"/>
<circle cx="386.5" cy="136.2" r="2.4"/>
<circle cx="378.3" cy="142.4" r="2.4"/>
<circle cx="364.6" cy="130.1" r="2.4"/>
</g>
<g fill="#ff8c1f" fill-opacity="0.85">
<rect x="306.0" y="97.2" width="5" height="5"/>
<rect x="312.2" y="85.7" width="5" height="5"/>
<rect x="320.9" y="99.2" width="5" height="5"/>
<rect x="333.3" y="99.8" width="5" height="5"/>
<rect x="307.0" y="97.7" width="5" height="5"/>
<rect x="326.1" y="119.9" width="5" height="5"/>
<rect x="330.7" y="113.7" width="5" height="5"/>
<rect x="335.8" y="110.6" width="5" height="5"/>
<rect x="340.5" y="115.3" width="5" height="5"/>
</g>
<g stroke="#e23a44" stroke-opacity="0.55" stroke-width="1.4">
<line x1="315.1" y1="65.9" x2="322.9" y2="65.9"/>
<line x1="319.0" y1="58.2" x2="319.0" y2="73.6"/>
<line x1="272.5" y1="93.9" x2="272.5" y2="107.9"/>
<line x1="265.9" y1="105.9" x2="275.5" y2="105.9"/>
<line x1="302.3" y1="82.3" x2="302.3" y2="100.3"/>
<line x1="332.4" y1="83.0" x2="332.4" y2="93.0"/>
<line x1="311.1" y1="85.6" x2="311.1" y2="95.6"/>
<line x1="344.5" y1="90.6" x2="344.5" y2="100.6"/>
<line x1="314.4" y1="99.3" x2="314.4" y2="109.3"/>
<line x1="357.9" y1="101.6" x2="370.9" y2="101.6"/>
<line x1="364.4" y1="97.1" x2="364.4" y2="106.1"/>
<line x1="370.7" y1="95.6" x2="370.7" y2="115.6"/>
<line x1="291.0" y1="101.1" x2="291.0" y2="121.1"/>
<line x1="318.8" y1="112.3" x2="318.8" y2="124.3"/>
<line x1="353.3" y1="107.8" x2="353.3" y2="127.8"/>
<line x1="378.9" y1="122.6" x2="387.9" y2="122.6"/>
<line x1="383.4" y1="114.6" x2="383.4" y2="130.6"/>
<line x1="396.7" y1="130.2" x2="406.7" y2="130.2"/>
<line x1="401.7" y1="122.7" x2="401.7" y2="137.7"/>
<line x1="360.5" y1="118.0" x2="360.5" y2="144.0"/>
</g>
<g fill="#d62028" fill-opacity="0.95">
<circle cx="319.0" cy="65.9" r="2.55"/>
<circle cx="332.4" cy="75.3" r="2.55"/>
<circle cx="272.5" cy="100.9" r="2.55"/>
<circle cx="270.7" cy="105.9" r="2.55"/>
<circle cx="281.2" cy="102.6" r="2.55"/>
<circle cx="287.2" cy="104.1" r="2.55"/>
<circle cx="292.8" cy="91.5" r="2.55"/>
<circle cx="292.8" cy="94.5" r="2.55"/>
<circle cx="302.3" cy="91.3" r="2.55"/>
<circle cx="291.3" cy="109.8" r="2.55"/>
<circle cx="280.7" cy="110.5" r="2.55"/>
<circle cx="315.7" cy="83.0" r="2.55"/>
<circle cx="332.4" cy="85.3" r="2.55"/>
<circle cx="332.4" cy="88.0" r="2.55"/>
<circle cx="322.4" cy="88.2" r="2.55"/>
<circle cx="319.3" cy="91.0" r="2.55"/>
<circle cx="311.1" cy="90.6" r="2.55"/>
<circle cx="349.2" cy="88.2" r="2.55"/>
<circle cx="330.6" cy="94.0" r="2.55"/>
<circle cx="322.4" cy="94.8" r="2.55"/>
<circle cx="319.1" cy="97.8" r="2.55"/>
<circle cx="344.5" cy="95.6" r="2.55"/>
<circle cx="314.4" cy="104.3" r="2.55"/>
<circle cx="338.3" cy="103.8" r="2.55"/>
<circle cx="343.0" cy="104.8" r="2.55"/>
<circle cx="351.2" cy="109.0" r="2.55"/>
<circle cx="364.4" cy="101.6" r="2.55"/>
<circle cx="370.7" cy="105.6" r="2.55"/>
<circle cx="374.8" cy="105.1" r="2.55"/>
<circle cx="274.5" cy="115.0" r="2.55"/>
<circle cx="281.0" cy="111.9" r="2.55"/>
<circle cx="291.0" cy="111.1" r="2.55"/>
<circle cx="318.8" cy="118.3" r="2.55"/>
<circle cx="345.6" cy="121.4" r="2.55"/>
<circle cx="353.3" cy="117.8" r="2.55"/>
<circle cx="348.1" cy="130.1" r="2.55"/>
<circle cx="360.0" cy="131.1" r="2.55"/>
<circle cx="379.2" cy="119.9" r="2.55"/>
<circle cx="383.4" cy="122.6" r="2.55"/>
<circle cx="401.7" cy="130.2" r="2.55"/>
<circle cx="367.1" cy="132.8" r="2.55"/>
<circle cx="361.1" cy="131.3" r="2.55"/>
<circle cx="348.0" cy="130.5" r="2.55"/>
<circle cx="360.5" cy="131.0" r="2.55"/>
<circle cx="367.0" cy="132.8" r="2.55"/>
</g>
</g>
<g clip-path="url(#cl)">
<line x1="318.9" y1="196.4" x2="318.9" y2="212.0" stroke="#e4624c" stroke-opacity="0.3" stroke-width="1.5"/>
<line x1="311.7" y1="221.2" x2="319.3" y2="221.2" stroke="#f2b294" stroke-opacity="0.3" stroke-width="1.5"/>
<line x1="326.7" y1="223.5" x2="337.7" y2="223.5" stroke="#f3c2a8" stroke-opacity="0.3" stroke-width="1.5"/>
<line x1="307.3" y1="228.8" x2="314.3" y2="228.8" stroke="#b0c8f2" stroke-opacity="0.3" stroke-width="1.5"/>
<line x1="310.8" y1="224.3" x2="310.8" y2="233.3" stroke="#b0c8f2" stroke-opacity="0.3" stroke-width="1.5"/>
<line x1="302.2" y1="218.9" x2="302.2" y2="239.9" stroke="#a8c2f6" stroke-opacity="0.3" stroke-width="1.5"/>
<line x1="265.3" y1="244.1" x2="275.3" y2="244.1" stroke="#5b7ee8" stroke-opacity="0.3" stroke-width="1.5"/>
<line x1="270.3" y1="232.3" x2="270.3" y2="255.9" stroke="#5b7ee8" stroke-opacity="0.3" stroke-width="1.5"/>
<line x1="291.2" y1="238.5" x2="291.2" y2="260.1" stroke="#5078e0" stroke-opacity="0.3" stroke-width="1.5"/>
<line x1="309.3" y1="242.3" x2="319.1" y2="242.3" stroke="#a8c0f0" stroke-opacity="0.3" stroke-width="1.5"/>
<line x1="314.2" y1="234.8" x2="314.2" y2="249.8" stroke="#a8c0f0" stroke-opacity="0.3" stroke-width="1.5"/>
<line x1="318.4" y1="248.9" x2="318.4" y2="263.9" stroke="#3e54cc" stroke-opacity="0.3" stroke-width="1.5"/>
<line x1="342.9" y1="236.9" x2="342.9" y2="249.3" stroke="#b8ccf2" stroke-opacity="0.3" stroke-width="1.5"/>
<line x1="358.7" y1="239.4" x2="369.7" y2="239.4" stroke="#ea7c5c" stroke-opacity="0.3" stroke-width="1.5"/>
<line x1="364.2" y1="234.4" x2="364.2" y2="244.4" stroke="#ea7c5c" stroke-opacity="0.3" stroke-width="1.5"/>
<line x1="370.6" y1="233.1" x2="370.6" y2="254.1" stroke="#c22432" stroke-opacity="0.3" stroke-width="1.5"/>
<line x1="350.0" y1="255.5" x2="356.6" y2="255.5" stroke="#a2baf2" stroke-opacity="0.3" stroke-width="1.5"/>
<line x1="353.3" y1="245.0" x2="353.3" y2="266.0" stroke="#a2baf2" stroke-opacity="0.3" stroke-width="1.5"/>
<line x1="360.6" y1="257.0" x2="360.6" y2="281.8" stroke="#4262d2" stroke-opacity="0.3" stroke-width="1.5"/>
<line x1="379.7" y1="260.2" x2="386.7" y2="260.2" stroke="#c2d2f0" stroke-opacity="0.3" stroke-width="1.5"/>
<line x1="383.2" y1="252.1" x2="383.2" y2="268.3" stroke="#c2d2f0" stroke-opacity="0.3" stroke-width="1.5"/>
<line x1="397.2" y1="268.8" x2="405.8" y2="268.8" stroke="#5272e0" stroke-opacity="0.3" stroke-width="1.5"/>
<line x1="401.5" y1="258.3" x2="401.5" y2="279.3" stroke="#5272e0" stroke-opacity="0.3" stroke-width="1.5"/>
<circle cx="318.9" cy="204.2" r="2.5" fill="#e4624c" fill-opacity="0.9"/>
<circle cx="332.2" cy="213.6" r="2.5" fill="#e0664e" fill-opacity="0.9"/>
<circle cx="315.5" cy="221.2" r="2.5" fill="#f2b294" fill-opacity="0.9"/>
<circle cx="332.2" cy="223.5" r="2.5" fill="#f3c2a8" fill-opacity="0.9"/>
<circle cx="332.2" cy="226.7" r="2.5" fill="#e87456" fill-opacity="0.9"/>
<circle cx="349.1" cy="226.2" r="2.5" fill="#f2c4a6" fill-opacity="0.9"/>
<circle cx="321.4" cy="226.8" r="2.5" fill="#d4d0cc" fill-opacity="0.9"/>
<circle cx="319.7" cy="228.9" r="2.5" fill="#cfd3dc" fill-opacity="0.9"/>
<circle cx="322.3" cy="233.0" r="2.5" fill="#c4d0e4" fill-opacity="0.9"/>
<circle cx="329.3" cy="231.9" r="2.5" fill="#bccdf0" fill-opacity="0.9"/>
<circle cx="331.2" cy="233.6" r="2.5" fill="#b6c8f0" fill-opacity="0.9"/>
<circle cx="319.0" cy="236.1" r="2.5" fill="#6c90f0" fill-opacity="0.9"/>
<circle cx="343.9" cy="233.9" r="2.5" fill="#e26450" fill-opacity="0.9"/>
<circle cx="310.8" cy="228.8" r="2.5" fill="#b0c8f2" fill-opacity="0.9"/>
<circle cx="302.2" cy="229.4" r="2.5" fill="#a8c2f6" fill-opacity="0.9"/>
<circle cx="292.7" cy="230.0" r="2.5" fill="#98b4f8" fill-opacity="0.9"/>
<circle cx="292.7" cy="233.0" r="2.5" fill="#98b4f8" fill-opacity="0.9"/>
<circle cx="272.6" cy="239.0" r="2.5" fill="#7b9cf0" fill-opacity="0.9"/>
<circle cx="270.3" cy="244.1" r="2.5" fill="#5b7ee8" fill-opacity="0.9"/>
<circle cx="274.3" cy="253.1" r="2.5" fill="#6584ec" fill-opacity="0.9"/>
<circle cx="281.2" cy="240.2" r="2.5" fill="#8eaaf4" fill-opacity="0.9"/>
<circle cx="287.2" cy="242.1" r="2.5" fill="#7090f0" fill-opacity="0.9"/>
<circle cx="280.8" cy="249.9" r="2.5" fill="#5c7ee8" fill-opacity="0.9"/>
<circle cx="291.2" cy="249.3" r="2.5" fill="#5078e0" fill-opacity="0.9"/>
<circle cx="314.2" cy="242.3" r="2.5" fill="#a8c0f0" fill-opacity="0.9"/>
<circle cx="318.4" cy="256.4" r="2.5" fill="#3e54cc" fill-opacity="0.9"/>
<circle cx="338.1" cy="242.1" r="2.5" fill="#d2d2da" fill-opacity="0.9"/>
<circle cx="342.9" cy="243.1" r="2.5" fill="#b8ccf2" fill-opacity="0.9"/>
<circle cx="364.2" cy="239.4" r="2.5" fill="#ea7c5c" fill-opacity="0.9"/>
<circle cx="370.6" cy="243.6" r="2.5" fill="#c22432" fill-opacity="0.9"/>
<circle cx="374.9" cy="243.1" r="2.5" fill="#f2aa84" fill-opacity="0.9"/>
<circle cx="345.3" cy="259.3" r="2.5" fill="#82a2f2" fill-opacity="0.9"/>
<circle cx="353.3" cy="255.5" r="2.5" fill="#a2baf2" fill-opacity="0.9"/>
<circle cx="348.2" cy="268.4" r="2.5" fill="#6282ea" fill-opacity="0.9"/>
<circle cx="360.6" cy="269.4" r="2.5" fill="#4262d2" fill-opacity="0.9"/>
<circle cx="366.7" cy="270.7" r="2.5" fill="#7a9af0" fill-opacity="0.9"/>
<circle cx="379.0" cy="258.3" r="2.5" fill="#d2d2d4" fill-opacity="0.9"/>
<circle cx="383.2" cy="260.2" r="2.5" fill="#c2d2f0" fill-opacity="0.9"/>
<circle cx="401.5" cy="268.8" r="2.5" fill="#5272e0" fill-opacity="0.9"/>
</g>
<rect x="56.2" y="41.2" width="416.90" height="276.20" fill="none" stroke="#1a1a1a" stroke-width="1.3"/>
<line x1="56.2" y1="179.3" x2="473.1" y2="179.3" stroke="#1a1a1a" stroke-width="1.3"/>
<line x1="88.56" y1="41.20" x2="88.56" y2="43.30" stroke="#1a1a1a" stroke-width="1"/>
<line x1="88.56" y1="179.30" x2="88.56" y2="177.20" stroke="#1a1a1a" stroke-width="1"/>
<line x1="120.62" y1="41.20" x2="120.62" y2="43.30" stroke="#1a1a1a" stroke-width="1"/>
<line x1="120.62" y1="179.30" x2="120.62" y2="177.20" stroke="#1a1a1a" stroke-width="1"/>
<line x1="152.68" y1="41.20" x2="152.68" y2="43.30" stroke="#1a1a1a" stroke-width="1"/>
<line x1="152.68" y1="179.30" x2="152.68" y2="177.20" stroke="#1a1a1a" stroke-width="1"/>
<line x1="184.74" y1="41.20" x2="184.74" y2="45.50" stroke="#1a1a1a" stroke-width="1"/>
<line x1="184.74" y1="179.30" x2="184.74" y2="175.00" stroke="#1a1a1a" stroke-width="1"/>
<line x1="216.80" y1="41.20" x2="216.80" y2="43.30" stroke="#1a1a1a" stroke-width="1"/>
<line x1="216.80" y1="179.30" x2="216.80" y2="177.20" stroke="#1a1a1a" stroke-width="1"/>
<line x1="248.86" y1="41.20" x2="248.86" y2="43.30" stroke="#1a1a1a" stroke-width="1"/>
<line x1="248.86" y1="179.30" x2="248.86" y2="177.20" stroke="#1a1a1a" stroke-width="1"/>
<line x1="280.92" y1="41.20" x2="280.92" y2="43.30" stroke="#1a1a1a" stroke-width="1"/>
<line x1="280.92" y1="179.30" x2="280.92" y2="177.20" stroke="#1a1a1a" stroke-width="1"/>
<line x1="312.98" y1="41.20" x2="312.98" y2="43.30" stroke="#1a1a1a" stroke-width="1"/>
<line x1="312.98" y1="179.30" x2="312.98" y2="177.20" stroke="#1a1a1a" stroke-width="1"/>
<line x1="345.04" y1="41.20" x2="345.04" y2="45.50" stroke="#1a1a1a" stroke-width="1"/>
<line x1="345.04" y1="179.30" x2="345.04" y2="175.00" stroke="#1a1a1a" stroke-width="1"/>
<line x1="377.10" y1="41.20" x2="377.10" y2="43.30" stroke="#1a1a1a" stroke-width="1"/>
<line x1="377.10" y1="179.30" x2="377.10" y2="177.20" stroke="#1a1a1a" stroke-width="1"/>
<line x1="409.16" y1="41.20" x2="409.16" y2="43.30" stroke="#1a1a1a" stroke-width="1"/>
<line x1="409.16" y1="179.30" x2="409.16" y2="177.20" stroke="#1a1a1a" stroke-width="1"/>
<line x1="441.22" y1="41.20" x2="441.22" y2="43.30" stroke="#1a1a1a" stroke-width="1"/>
<line x1="441.22" y1="179.30" x2="441.22" y2="177.20" stroke="#1a1a1a" stroke-width="1"/>
<line x1="56.20" y1="164.10" x2="58.30" y2="164.10" stroke="#1a1a1a" stroke-width="1"/>
<line x1="473.10" y1="164.10" x2="471.00" y2="164.10" stroke="#1a1a1a" stroke-width="1"/>
<line x1="56.20" y1="148.70" x2="58.30" y2="148.70" stroke="#1a1a1a" stroke-width="1"/>
<line x1="473.10" y1="148.70" x2="471.00" y2="148.70" stroke="#1a1a1a" stroke-width="1"/>
<line x1="56.20" y1="133.30" x2="60.50" y2="133.30" stroke="#1a1a1a" stroke-width="1"/>
<line x1="473.10" y1="133.30" x2="468.80" y2="133.30" stroke="#1a1a1a" stroke-width="1"/>
<line x1="56.20" y1="117.90" x2="58.30" y2="117.90" stroke="#1a1a1a" stroke-width="1"/>
<line x1="473.10" y1="117.90" x2="471.00" y2="117.90" stroke="#1a1a1a" stroke-width="1"/>
<line x1="56.20" y1="102.50" x2="58.30" y2="102.50" stroke="#1a1a1a" stroke-width="1"/>
<line x1="473.10" y1="102.50" x2="471.00" y2="102.50" stroke="#1a1a1a" stroke-width="1"/>
<line x1="56.20" y1="87.10" x2="58.30" y2="87.10" stroke="#1a1a1a" stroke-width="1"/>
<line x1="473.10" y1="87.10" x2="471.00" y2="87.10" stroke="#1a1a1a" stroke-width="1"/>
<line x1="56.20" y1="71.70" x2="58.30" y2="71.70" stroke="#1a1a1a" stroke-width="1"/>
<line x1="473.10" y1="71.70" x2="471.00" y2="71.70" stroke="#1a1a1a" stroke-width="1"/>
<line x1="56.20" y1="56.30" x2="60.50" y2="56.30" stroke="#1a1a1a" stroke-width="1"/>
<line x1="473.10" y1="56.30" x2="468.80" y2="56.30" stroke="#1a1a1a" stroke-width="1"/>
<line x1="88.56" y1="179.30" x2="88.56" y2="181.40" stroke="#1a1a1a" stroke-width="1"/>
<line x1="88.56" y1="317.40" x2="88.56" y2="315.30" stroke="#1a1a1a" stroke-width="1"/>
<line x1="120.62" y1="179.30" x2="120.62" y2="181.40" stroke="#1a1a1a" stroke-width="1"/>
<line x1="120.62" y1="317.40" x2="120.62" y2="315.30" stroke="#1a1a1a" stroke-width="1"/>
<line x1="152.68" y1="179.30" x2="152.68" y2="181.40" stroke="#1a1a1a" stroke-width="1"/>
<line x1="152.68" y1="317.40" x2="152.68" y2="315.30" stroke="#1a1a1a" stroke-width="1"/>
<line x1="184.74" y1="179.30" x2="184.74" y2="183.60" stroke="#1a1a1a" stroke-width="1"/>
<line x1="184.74" y1="317.40" x2="184.74" y2="313.10" stroke="#1a1a1a" stroke-width="1"/>
<line x1="216.80" y1="179.30" x2="216.80" y2="181.40" stroke="#1a1a1a" stroke-width="1"/>
<line x1="216.80" y1="317.40" x2="216.80" y2="315.30" stroke="#1a1a1a" stroke-width="1"/>
<line x1="248.86" y1="179.30" x2="248.86" y2="181.40" stroke="#1a1a1a" stroke-width="1"/>
<line x1="248.86" y1="317.40" x2="248.86" y2="315.30" stroke="#1a1a1a" stroke-width="1"/>
<line x1="280.92" y1="179.30" x2="280.92" y2="181.40" stroke="#1a1a1a" stroke-width="1"/>
<line x1="280.92" y1="317.40" x2="280.92" y2="315.30" stroke="#1a1a1a" stroke-width="1"/>
<line x1="312.98" y1="179.30" x2="312.98" y2="181.40" stroke="#1a1a1a" stroke-width="1"/>
<line x1="312.98" y1="317.40" x2="312.98" y2="315.30" stroke="#1a1a1a" stroke-width="1"/>
<line x1="345.04" y1="179.30" x2="345.04" y2="183.60" stroke="#1a1a1a" stroke-width="1"/>
<line x1="345.04" y1="317.40" x2="345.04" y2="313.10" stroke="#1a1a1a" stroke-width="1"/>
<line x1="377.10" y1="179.30" x2="377.10" y2="181.40" stroke="#1a1a1a" stroke-width="1"/>
<line x1="377.10" y1="317.40" x2="377.10" y2="315.30" stroke="#1a1a1a" stroke-width="1"/>
<line x1="409.16" y1="179.30" x2="409.16" y2="181.40" stroke="#1a1a1a" stroke-width="1"/>
<line x1="409.16" y1="317.40" x2="409.16" y2="315.30" stroke="#1a1a1a" stroke-width="1"/>
<line x1="441.22" y1="179.30" x2="441.22" y2="181.40" stroke="#1a1a1a" stroke-width="1"/>
<line x1="441.22" y1="317.40" x2="441.22" y2="315.30" stroke="#1a1a1a" stroke-width="1"/>
<line x1="56.20" y1="302.20" x2="58.30" y2="302.20" stroke="#1a1a1a" stroke-width="1"/>
<line x1="473.10" y1="302.20" x2="471.00" y2="302.20" stroke="#1a1a1a" stroke-width="1"/>
<line x1="56.20" y1="286.80" x2="58.30" y2="286.80" stroke="#1a1a1a" stroke-width="1"/>
<line x1="473.10" y1="286.80" x2="471.00" y2="286.80" stroke="#1a1a1a" stroke-width="1"/>
<line x1="56.20" y1="271.40" x2="60.50" y2="271.40" stroke="#1a1a1a" stroke-width="1"/>
<line x1="473.10" y1="271.40" x2="468.80" y2="271.40" stroke="#1a1a1a" stroke-width="1"/>
<line x1="56.20" y1="256.00" x2="58.30" y2="256.00" stroke="#1a1a1a" stroke-width="1"/>
<line x1="473.10" y1="256.00" x2="471.00" y2="256.00" stroke="#1a1a1a" stroke-width="1"/>
<line x1="56.20" y1="240.60" x2="58.30" y2="240.60" stroke="#1a1a1a" stroke-width="1"/>
<line x1="473.10" y1="240.60" x2="471.00" y2="240.60" stroke="#1a1a1a" stroke-width="1"/>
<line x1="56.20" y1="225.20" x2="58.30" y2="225.20" stroke="#1a1a1a" stroke-width="1"/>
<line x1="473.10" y1="225.20" x2="471.00" y2="225.20" stroke="#1a1a1a" stroke-width="1"/>
<line x1="56.20" y1="209.80" x2="58.30" y2="209.80" stroke="#1a1a1a" stroke-width="1"/>
<line x1="473.10" y1="209.80" x2="471.00" y2="209.80" stroke="#1a1a1a" stroke-width="1"/>
<line x1="56.20" y1="194.40" x2="60.50" y2="194.40" stroke="#1a1a1a" stroke-width="1"/>
<line x1="473.10" y1="194.40" x2="468.80" y2="194.40" stroke="#1a1a1a" stroke-width="1"/>
<text x="51.4" y="60.75" text-anchor="end" font-size="13.4">0.5</text>
<text x="51.4" y="198.85" text-anchor="end" font-size="13.4">0.5</text>
<text x="51.4" y="137.75" text-anchor="end" font-size="13.4">0.0</text>
<text x="51.4" y="275.85" text-anchor="end" font-size="13.4">0.0</text>
<text x="183.84" y="331.5" text-anchor="middle" font-size="13.4">-1</text>
<text x="345.04" y="331.5" text-anchor="middle" font-size="13.4">0</text>
<text x="263.1" y="345.4" text-anchor="middle" font-size="17.2" textLength="53.9" lengthAdjust="spacingAndGlyphs">[Fe/H]</text>
<text transform="translate(13.4,179) rotate(-90)" text-anchor="middle" font-size="16.5" textLength="63" lengthAdjust="spacingAndGlyphs">[Ce/Fe]</text>
<rect x="478.4" y="179.3" width="5.60" height="136.50" fill="url(#cb)" stroke="#1a1a1a" stroke-width="0.9"/>
<line x1="484.0" y1="179.30" x2="488.40" y2="179.30" stroke="#1a1a1a" stroke-width="1"/>
<text x="492.6" y="182.45" font-size="8.3">10.00</text>
<line x1="484.0" y1="196.36" x2="488.40" y2="196.36" stroke="#1a1a1a" stroke-width="1"/>
<text x="492.6" y="199.51" font-size="8.3">9.75</text>
<line x1="484.0" y1="213.43" x2="488.40" y2="213.43" stroke="#1a1a1a" stroke-width="1"/>
<text x="492.6" y="216.58" font-size="8.3">9.50</text>
<line x1="484.0" y1="230.49" x2="488.40" y2="230.49" stroke="#1a1a1a" stroke-width="1"/>
<text x="492.6" y="233.64" font-size="8.3">9.25</text>
<line x1="484.0" y1="247.55" x2="488.40" y2="247.55" stroke="#1a1a1a" stroke-width="1"/>
<text x="492.6" y="250.70" font-size="8.3">9.00</text>
<line x1="484.0" y1="264.61" x2="488.40" y2="264.61" stroke="#1a1a1a" stroke-width="1"/>
<text x="492.6" y="267.76" font-size="8.3">8.75</text>
<line x1="484.0" y1="281.68" x2="488.40" y2="281.68" stroke="#1a1a1a" stroke-width="1"/>
<text x="492.6" y="284.82" font-size="8.3">8.50</text>
<line x1="484.0" y1="298.74" x2="488.40" y2="298.74" stroke="#1a1a1a" stroke-width="1"/>
<text x="492.6" y="301.89" font-size="8.3">8.25</text>
<line x1="484.0" y1="315.80" x2="488.40" y2="315.80" stroke="#1a1a1a" stroke-width="1"/>
<text x="492.6" y="318.95" font-size="8.3">8.00</text>
<text transform="translate(522.6,248.7) rotate(-90)" text-anchor="middle" font-size="6.9">logAge</text>
<rect x="85" y="1.2" width="345.5" height="34.3" rx="2" ry="2" fill="#fff" fill-opacity="0.8" stroke="#d0d0d0" stroke-width="0.9"/>
<circle cx="95.4" cy="8.2" r="2.3" fill="none" stroke="#c8c8c8" stroke-width="1"/>
<circle cx="95.4" cy="18.9" r="2.3" fill="#3cb371" fill-opacity="0.5" stroke="#2e8b57" stroke-opacity="0.75" stroke-width="0.9"/>
<circle cx="95.4" cy="29.7" r="2.65" fill="#ee82ee"/>
<text x="108.3" y="10.5" font-size="8.3">Dwarf stars</text>
<text x="108.3" y="21.2" font-size="8.3" textLength="56.1" lengthAdjust="spacingAndGlyphs">Giant disk stars</text>
<text x="108.3" y="32.0" font-size="8.3" textLength="87.4" lengthAdjust="spacingAndGlyphs">Casamiquela et al. 2021</text>
<path d="M217.9 5.3999999999999995 L221 10.6 L214.8 10.6 Z" fill="#ff7f0e"/>
<circle cx="217.9" cy="18.9" r="2.5" fill="#ff8c1f" fill-opacity="0.85" stroke="#f57f10" stroke-width="0.7"/>
<text x="230.8" y="10.5" font-size="8.3">Maiorca et al. 2011</text>
<text x="230.8" y="21.2" font-size="8.3" textLength="67.7" lengthAdjust="spacingAndGlyphs">Magrini et al. 2018</text>
<rect x="319.1" y="5.6" width="5.2" height="5.2" fill="#f7903a"/>
<circle cx="321.7" cy="18.9" r="2.6" fill="#d62028" fill-opacity="0.95"/>
<text x="334.6" y="10.5" font-size="8.3">Other optical studies</text>
<text x="334.6" y="21.2" font-size="8.3" textLength="93.3" lengthAdjust="spacingAndGlyphs">Open clusters (this study)</text>
</svg></body></html>
